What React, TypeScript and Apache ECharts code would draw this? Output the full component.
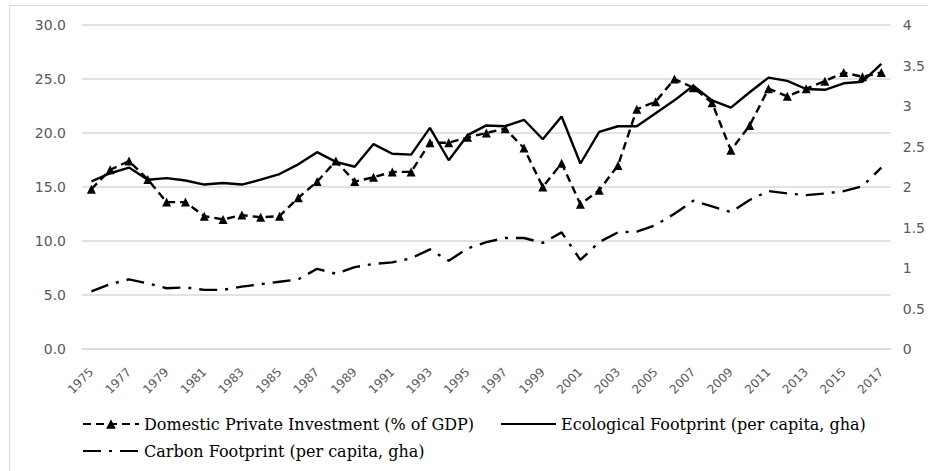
import React, { useEffect, useRef } from "react";
import * as echarts from "echarts";

const years = [
  "1975", "1976", "1977", "1978", "1979", "1980", "1981", "1982", "1983", "1984",
  "1985", "1986", "1987", "1988", "1989", "1990", "1991", "1992", "1993", "1994",
  "1995", "1996", "1997", "1998", "1999", "2000", "2001", "2002", "2003", "2004",
  "2005", "2006", "2007", "2008", "2009", "2010", "2011", "2012", "2013", "2014",
  "2015", "2016", "2017",
];

// Domestic Private Investment (% of GDP) — left axis
const dpi = [
  14.8, 16.6, 17.4, 15.7, 13.6, 13.6, 12.3, 12.0, 12.4, 12.2,
  12.3, 14.0, 15.5, 17.4, 15.5, 15.9, 16.4, 16.4, 19.1, 19.1,
  19.6, 20.0, 20.4, 18.6, 15.0, 17.2, 13.4, 14.7, 17.0, 22.2,
  22.9, 25.0, 24.2, 22.8, 18.4, 20.7, 24.1, 23.4, 24.1, 24.8,
  25.6, 25.2, 25.6,
];

// Ecological Footprint (per capita, gha) — right axis
const eco = [
  2.07, 2.17, 2.24, 2.09, 2.11, 2.08, 2.03, 2.05, 2.03, 2.09,
  2.16, 2.28, 2.43, 2.31, 2.25, 2.53, 2.41, 2.40, 2.73, 2.33,
  2.64, 2.76, 2.75, 2.83, 2.59, 2.87, 2.29, 2.68, 2.75, 2.75,
  2.91, 3.07, 3.25, 3.07, 2.98, 3.17, 3.35, 3.31, 3.21, 3.20,
  3.28, 3.30, 3.52,
];

// Carbon Footprint (per capita, gha) — right axis
const carbon = [
  0.71, 0.80, 0.86, 0.81, 0.75, 0.76, 0.73, 0.73, 0.77, 0.80,
  0.83, 0.86, 0.99, 0.93, 1.01, 1.05, 1.07, 1.12, 1.23, 1.09,
  1.24, 1.32, 1.37, 1.37, 1.31, 1.44, 1.10, 1.32, 1.44, 1.45,
  1.53, 1.67, 1.83, 1.76, 1.69, 1.84, 1.95, 1.92, 1.90, 1.92,
  1.95, 2.01, 2.24,
];

const seriesNames = [
  "Domestic Private Investment (% of GDP)",
  "Ecological Footprint (per capita, gha)",
  "Carbon Footprint (per capita, gha)",
];

export default function App() {
  const ref = useRef<HTMLDivElement>(null);

  useEffect(() => {
    const chart = echarts.init(ref.current!, null, { renderer: "svg" });
    const axisFont = { fontFamily: "DejaVu Sans", color: "#595959" };
    const legendText = { fontFamily: "DejaVu Serif", fontSize: 16, color: "#000" };
    chart.setOption({
      animation: false,
      backgroundColor: "#fff",
      graphic: [
        {
          type: "rect",
          silent: true,
          z: -10,
          shape: { x: 9.5, y: 5.5, width: 940, height: 470 },
          style: { fill: "none", stroke: "#d9d9d9", lineWidth: 1 },
        },
      ],
      grid: { left: 82, right: 32, top: 25, bottom: 122 },
      legend: [
        {
          left: 82, top: 416, padding: 0, itemWidth: 56, itemHeight: 12,
          selectedMode: false, data: [seriesNames[0]], textStyle: legendText,
        },
        {
          left: 500, top: 416, padding: 0, itemWidth: 55, itemHeight: 12,
          selectedMode: false, data: [seriesNames[1]], textStyle: legendText,
          itemStyle: { opacity: 0 },
        },
        {
          left: 82, top: 443, padding: 0, itemWidth: 56, itemHeight: 12,
          selectedMode: false, data: [seriesNames[2]], textStyle: legendText,
          itemStyle: { opacity: 0 },
        },
      ],
      xAxis: {
        type: "category",
        data: years,
        boundaryGap: true,
        axisLine: { show: true, lineStyle: { color: "#d9d9d9", width: 1.5 } },
        axisTick: { show: false },
        axisLabel: { ...axisFont, fontSize: 12, rotate: 45, interval: 1, margin: 21 },
      },
      yAxis: [
        {
          type: "value",
          min: 0,
          max: 30,
          interval: 5,
          axisLine: { show: false },
          axisTick: { show: false },
          splitLine: { lineStyle: { color: "#d9d9d9", width: 1.5 } },
          axisLabel: { ...axisFont, fontSize: 14, margin: 16, formatter: (v: number) => v.toFixed(1) },
        },
        {
          type: "value",
          min: 0,
          max: 4,
          interval: 0.5,
          axisLine: { show: false },
          axisTick: { show: false },
          splitLine: { show: false },
          axisLabel: { ...axisFont, fontSize: 14, margin: 12 },
        },
      ],
      series: [
        {
          name: seriesNames[0],
          type: "line",
          yAxisIndex: 0,
          data: dpi,
          symbol: "triangle",
          symbolSize: 9,
          itemStyle: { color: "#000" },
          lineStyle: { color: "#000", width: 2.4, type: [8, 5] },
          z: 3,
        },
        {
          name: seriesNames[1],
          type: "line",
          yAxisIndex: 1,
          data: eco,
          symbol: "none",
          itemStyle: { color: "#000" },
          lineStyle: { color: "#000", width: 2.4, type: "solid" },
          z: 2,
        },
        {
          name: seriesNames[2],
          type: "line",
          yAxisIndex: 1,
          data: carbon,
          symbol: "none",
          itemStyle: { color: "#000" },
          lineStyle: { color: "#000", width: 2.4, type: [18, 8, 3, 8] },
          z: 2,
        },
      ],
    });
    return () => chart.dispose();
  }, []);

  return (
    <div
      ref={ref}
      style={{ position: "fixed", left: 0, top: 0, width: 928, height: 471, background: "#fff" }}
    />
  );
}
